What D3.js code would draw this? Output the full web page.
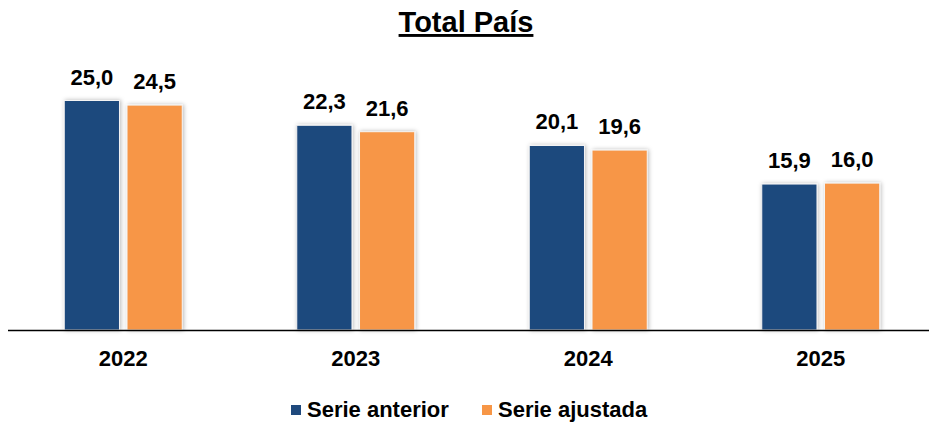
<!DOCTYPE html>
<html>
<head>
<meta charset="utf-8">
<script src="https://cdn.jsdelivr.net/npm/d3@7"></script>
<style>
  body { margin: 0; background: #fff; }
  text { font-family: "Liberation Sans", Arial, sans-serif; font-weight: bold; fill: #000; }
</style>
</head>
<body>
<script>
var years = ["2022", "2023", "2024", "2025"];
var seriesNames = ["Serie anterior", "Serie ajustada"];
var serieAnterior = [25.0, 22.3, 20.1, 15.9];
var serieAjustada = [24.5, 21.6, 19.6, 16.0];
var colors = ["#1f497d", "#f79646"];

var width = 929, height = 425;
var baseY = 330;

var svg = d3.select("body").append("svg")
    .attr("width", width)
    .attr("height", height);

var defs = svg.append("defs");
var shadow = defs.append("filter")
    .attr("id", "shadow")
    .attr("x", "-20%").attr("y", "-10%")
    .attr("width", "140%").attr("height", "120%");
shadow.append("feDropShadow")
    .attr("dx", 1).attr("dy", 0)
    .attr("stdDeviation", 2)
    .attr("flood-color", "#000")
    .attr("flood-opacity", 0.28);

var x = d3.scaleBand()
    .domain(years)
    .range([7, 937]);

var x1 = d3.scaleBand()
    .domain(seriesNames)
    .paddingInner(0.12);

var y = d3.scaleLinear()
    .domain([0, 25])
    .range([baseY, 100.5]);

var data = years.map(function(yr, i) {
  return { year: yr, values: [serieAnterior[i], serieAjustada[i]] };
});

// title
svg.append("text")
    .attr("x", 466)
    .attr("y", 32)
    .style("text-anchor", "middle")
    .style("font-size", "29px")
    .style("text-decoration", "underline")
    .text("Total País");

var groups = svg.selectAll(".grp")
    .data(data)
  .enter().append("g")
    .attr("class", "grp")
    .attr("transform", function(d) { return "translate(" + x(d.year) + ",0)"; });

x1.range([x.bandwidth() / 2 - 59, x.bandwidth() / 2 + 59]);

groups.selectAll("rect")
    .data(function(d) { return d.values.map(function(v, j) { return { name: seriesNames[j], value: v, i: j }; }); })
  .enter().append("rect")
    .attr("x", function(d) { return x1(d.name); })
    .attr("width", x1.bandwidth())
    .attr("y", function(d) { return y(d.value); })
    .attr("height", function(d) { return baseY - y(d.value); })
    .style("fill", function(d) { return colors[d.i]; })
    .style("stroke", "#f4f4f4")
    .style("stroke-width", 1)
    .attr("filter", "url(#shadow)");

groups.selectAll(".val")
    .data(function(d) { return d.values.map(function(v, j) { return { name: seriesNames[j], value: v }; }); })
  .enter().append("text")
    .attr("class", "val")
    .attr("x", function(d) { return x1(d.name) + x1.bandwidth() / 2; })
    .attr("y", function(d) { return y(d.value) - 16; })
    .style("text-anchor", "middle")
    .style("font-size", "22px")
    .text(function(d) { return d3.format(".1f")(d.value).replace(".", ","); });

// x axis
var xAxis = d3.axisBottom(x).tickSize(0).tickPadding(20);
var axisG = svg.append("g")
    .attr("class", "x axis")
    .attr("transform", "translate(0," + baseY + ")")
    .call(xAxis);
axisG.select(".domain").remove();
axisG.selectAll("text")
    .style("font-size", "22px")
    .style("font-family", "Liberation Sans, Arial, sans-serif")
    .attr("dy", null)
    .attr("y", 36);
svg.append("line")
    .attr("x1", 8).attr("x2", 929)
    .attr("y1", baseY + 0.5).attr("y2", baseY + 0.5)
    .style("stroke", "#000")
    .style("stroke-width", 1.5);

// legend
var legendX = [291, 482];
var legend = svg.selectAll(".legend")
    .data(seriesNames)
  .enter().append("g")
    .attr("class", "legend")
    .attr("transform", function(d, i) { return "translate(" + legendX[i] + ",405)"; });

legend.append("rect")
    .attr("width", 10)
    .attr("height", 10)
    .style("fill", function(d, i) { return colors[i]; });

legend.append("text")
    .attr("x", 16)
    .attr("y", 12)
    .style("font-size", "22px")
    .text(function(d) { return d; });
</script>
</body>
</html>
